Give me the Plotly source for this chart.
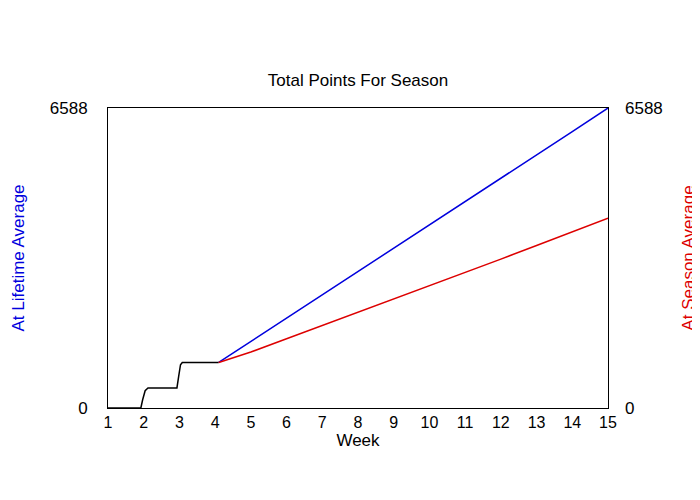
import plotly.graph_objects as go

# pre-season (actual) points
weeks_actual = [1, 1.92, 1.97, 2.04, 2.12, 2.93, 2.98, 3.03, 3.08, 4.1]
pts_actual = [0, 0, 180, 380, 440, 440, 700, 950, 1000, 1000]

# projected totals
weeks_proj = [4.1, 5, 6, 7, 8, 9, 10, 11, 12, 13, 14, 15]
pts_lifetime = [1000, 1460, 1970, 2480, 2990, 3500, 4020, 4530, 5050, 5560, 6070, 6588]
pts_season = [1000, 1230, 1520, 1810, 2100, 2390, 2690, 2980, 3270, 3570, 3870, 4170]

ymax = 6588

fig = go.Figure()
fig.add_trace(go.Scatter(x=weeks_proj, y=pts_lifetime, mode="lines",
                         line=dict(color="#0000dd", width=1.5)))
fig.add_trace(go.Scatter(x=weeks_proj, y=pts_season, mode="lines",
                         line=dict(color="#dd0000", width=1.5), yaxis="y2"))
fig.add_trace(go.Scatter(x=weeks_actual, y=pts_actual, mode="lines",
                         line=dict(color="black", width=1.5)))

fig.update_layout(
    width=700, height=500,
    margin=dict(l=100, r=100, t=100, b=100, autoexpand=False),
    plot_bgcolor="white", paper_bgcolor="white",
    showlegend=False,
    font=dict(family="Liberation Sans, Arial", color="black"),
    title=dict(text="Total Points For Season", x=0.5, y=1 - 72 / 500,
               xanchor="center", yanchor="middle", font=dict(size=17)),
    xaxis=dict(title=dict(text="Week", font=dict(size=17), standoff=2),
               range=[1, 15], tickvals=list(range(1, 16)), showgrid=False,
               showline=True, linecolor="black", mirror=True, ticks="",
               tickfont=dict(size=16), zeroline=False, automargin=False),
    yaxis=dict(title=dict(text="At Lifetime Average", font=dict(size=17, color="#0000dd"),
                          standoff=20),
               range=[0, ymax], tickvals=[0, ymax], ticktext=["0", "6588"],
               showgrid=False, showline=True, linecolor="black", mirror=True,
               ticks="", ticklabelstandoff=16,
               tickfont=dict(size=17), zeroline=False, automargin=False),
    yaxis2=dict(title=dict(text="At Season Average", font=dict(size=17, color="#dd0000"),
                           standoff=20),
                range=[0, ymax], tickvals=[0, ymax], ticktext=["0", "6588"],
                overlaying="y", side="right", showgrid=False, ticks="",
                ticklabelstandoff=16,
                tickfont=dict(size=17), zeroline=False, automargin=False),
)

fig.write_html("out.html")
